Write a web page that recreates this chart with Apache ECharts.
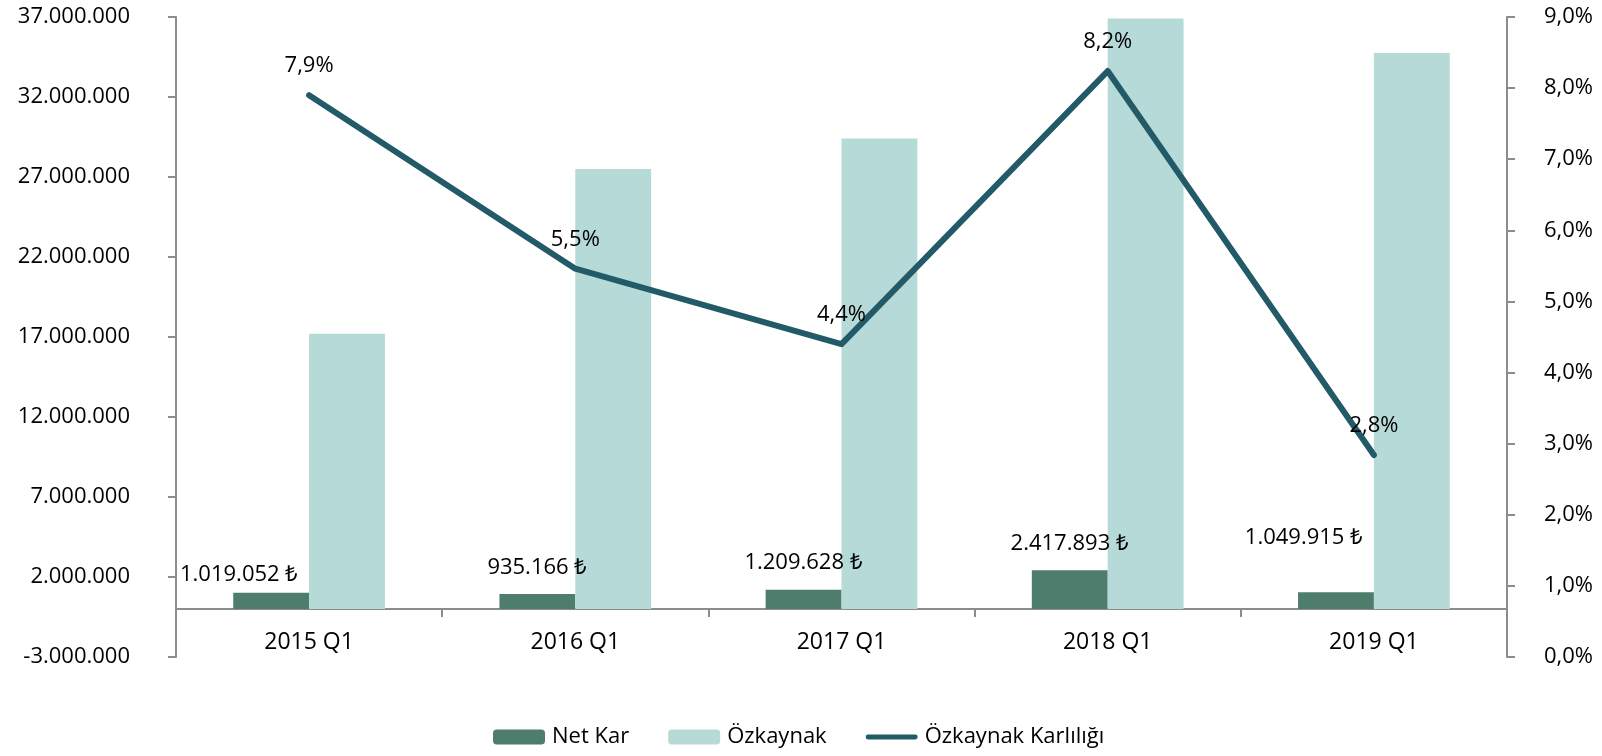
<!DOCTYPE html>
<html style="height: 100%">
<head>
    <meta charset="UTF-8">
    <title>Net Kar / Özkaynak</title>
    <script src="https://cdn.jsdelivr.net/npm/echarts/dist/echarts.min.js"></script>
    <style>
        #main {
            width: 1602px;
            height: 756px;
        }
    </style>
</head>
<body style="height: 100%; margin: 0">
    <div id="main"></div>
    <script type="text/javascript">
        var categories = ['2015 Q1', '2016 Q1', '2017 Q1', '2018 Q1', '2019 Q1'];
        var netKar = [1019052, 935166, 1209628, 2417893, 1049915];
        var ozkaynak = [17200000, 27500000, 29400000, 36900000, 34750000];
        var karlilik = [7.9, 5.46, 4.4, 8.24, 2.84]; // yüzde

        // etiketlerin elle kaydırılmış konumları
        var netKarLabelOffsets = [[-32, -2], [0, -10], [0, -11], [0, -11], [-32, -38]];

        var textFont = 'Open Sans';
        var axisGray = '#8c8c8c';
        var lineColor = '#225a68';

        function fmtThousands(v) {
            var s = Math.abs(Math.round(v)).toString().replace(/\B(?=(\d{3})+(?!\d))/g, '.');
            return (v < 0 ? '-' : '') + s;
        }
        function fmtPct(v) {
            return v.toFixed(1).replace('.', ',') + '%';
        }

        var chartDom = document.getElementById('main');
        var myChart = echarts.init(chartDom);

        var option = {
            animation: false,
            textStyle: { fontFamily: textFont },
            grid: { left: 176, right: 95, top: 17, bottom: 99 },
            legend: {
                left: 488,
                bottom: 3,
                itemWidth: 52,
                itemHeight: 15,
                itemGap: 39,
                textStyle: { fontFamily: textFont, fontSize: 22, color: '#000', padding: [0, 0, 0, 2] },
                data: [
                    { name: 'Net Kar' },
                    { name: 'Özkaynak' },
                    { name: 'Özkaynak Karlılığı', icon: 'path://M2,6 L40,6 A2,2 0 0 1 40,10 L2,10 A2,2 0 0 1 2,6 Z', itemStyle: { color: lineColor } }
                ]
            },
            xAxis: {
                type: 'category',
                data: categories,
                axisLine: { onZero: true, onZeroAxisIndex: 0, lineStyle: { color: axisGray, width: 2 } },
                axisTick: { show: true, length: 8, lineStyle: { color: axisGray, width: 2 } },
                axisLabel: { margin: -26, fontSize: 23, color: '#000', fontFamily: textFont }
            },
            yAxis: [{
                type: 'value',
                min: -3000000,
                max: 37000000,
                interval: 5000000,
                splitLine: { show: false },
                axisLine: { show: true, lineStyle: { color: axisGray, width: 2 } },
                axisTick: { show: true, length: 8, lineStyle: { color: axisGray, width: 2 } },
                axisLabel: {
                    margin: 46, fontSize: 22, color: '#000', fontFamily: textFont,
                    formatter: function (v) { return fmtThousands(v); }
                }
            }, {
                type: 'value',
                min: 0,
                max: 9,
                interval: 1,
                splitLine: { show: false },
                axisLine: { show: true, lineStyle: { color: axisGray, width: 2 } },
                axisTick: { show: true, length: 8, lineStyle: { color: axisGray, width: 2 } },
                axisLabel: {
                    margin: 37, fontSize: 22, color: '#000', fontFamily: textFont,
                    formatter: function (v) { return fmtPct(v); }
                }
            }],
            series: [{
                name: 'Net Kar',
                type: 'bar',
                barGap: '0%',
                barCategoryGap: '43%',
                itemStyle: { color: '#4e7d6e' },
                label: {
                    show: true,
                    position: 'top',
                    fontSize: 22,
                    color: '#000',
                    fontFamily: textFont,
                    formatter: function (p) { return fmtThousands(p.value) + ' ₺'; }
                },
                data: netKar.map(function (v, i) {
                    return { value: v, label: { offset: netKarLabelOffsets[i] } };
                })
            }, {
                name: 'Özkaynak',
                type: 'bar',
                itemStyle: { color: '#b5dad8' },
                data: ozkaynak
            }, {
                name: 'Özkaynak Karlılığı',
                type: 'line',
                yAxisIndex: 1,
                symbol: 'circle',
                symbolSize: 0.1,
                showSymbol: true,
                lineStyle: { color: lineColor, width: 6, cap: 'round', join: 'round' },
                itemStyle: { color: lineColor },
                label: {
                    show: true,
                    position: 'top',
                    distance: 18,
                    fontSize: 22,
                    color: '#000',
                    fontFamily: textFont,
                    formatter: function (p) { return fmtPct(p.value); }
                },
                data: karlilik
            }]
        };

        myChart.setOption(option);
    </script>
</body>
</html>
